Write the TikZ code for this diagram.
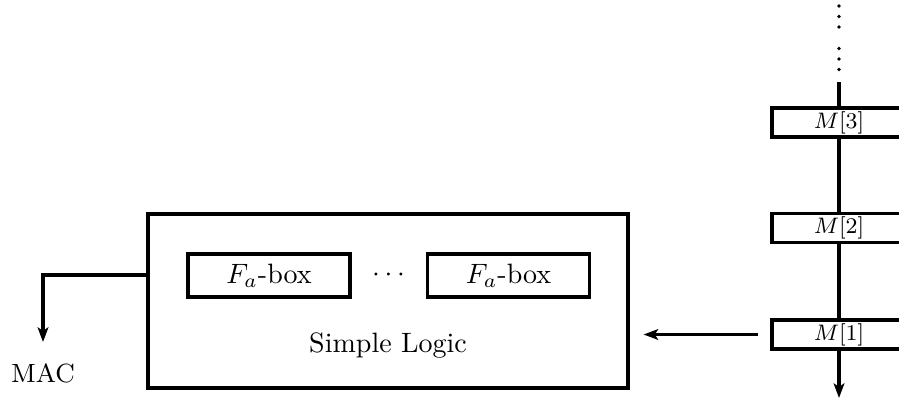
\documentclass[tikz,border=0pt]{standalone}
\usetikzlibrary{arrows.meta}
\def\px{0.3571pt}
\begin{document}
\begin{tikzpicture}[x=0.3571pt,y=-0.3571pt,
  line width=1.1pt,
  tip/.style={-{Stealth[length=5.2pt,width=3.8pt,inset=1.2pt]}},
  bigbox/.style={draw,rectangle,inner sep=0pt,minimum width={480*\px},minimum height={174*\px}},
  fbox/.style={draw,rectangle,inner sep=0pt,minimum width={162*\px},minimum height={43*\px},font=\fontsize{10}{12}\selectfont},
  mbox/.style={draw,rectangle,inner sep=0pt,minimum width={134*\px},minimum height={29*\px},font=\fontsize{7.6}{9}\selectfont},
  lbl/.style={inner sep=0pt,font=\fontsize{10}{12}\selectfont},
  dotmark/.style={circle,fill,draw=none,inner sep=0pt,minimum size={3.6*\px}}
]
\useasboundingbox (0,0) rectangle (899,404);
% main block
\node[bigbox] (big) at (388,301) {};
\node[fbox] (fa1) at (269,275.5) {$F_a$-box};
\node[fbox] (fa2) at (508.5,275.5) {$F_a$-box};
\node[lbl] (dots) at (388.5,275.5) {$\cdots$};
\node[lbl,anchor=base] (sl) at (388,352) {Simple Logic};
% MAC output
\coordinate (macturn) at (43,275);
\coordinate (mactip) at (43,342);
\node[lbl,anchor=base,font=\fontsize{9.4}{11}\selectfont] (mac) at (43,382) {MAC};
\draw[tip] (big.west |- macturn) -- (macturn) -- (mactip);
% memory column: continuation dots
\node[dotmark] (d1) at (839,6) {};
\node[dotmark] (d2) at (839,16.5) {};
\node[dotmark] (d3) at (839,27) {};
\node[dotmark] (d4) at (839,48.5) {};
\node[dotmark] (d5) at (839,59) {};
\node[dotmark] (d6) at (839,69.5) {};
\coordinate (ctop) at (839,82);
\node[mbox] (m3) at (839,122.5) {$M[3]$};
\node[mbox] (m2) at (839,228) {$M[2]$};
\node[mbox] (m1) at (839,334.5) {$M[1]$};
\coordinate (cbot) at (839,398);
\draw (ctop) -- (m3.north);
\draw (m3.south) -- (m2.north);
\draw (m2.south) -- (m1.north);
\draw[tip] (m1.south) -- (cbot);
\draw[tip,shorten <={12*\px},shorten >={14*\px}] (m1.west) -- (m1.west -| big.east);
\end{tikzpicture}
\end{document}
